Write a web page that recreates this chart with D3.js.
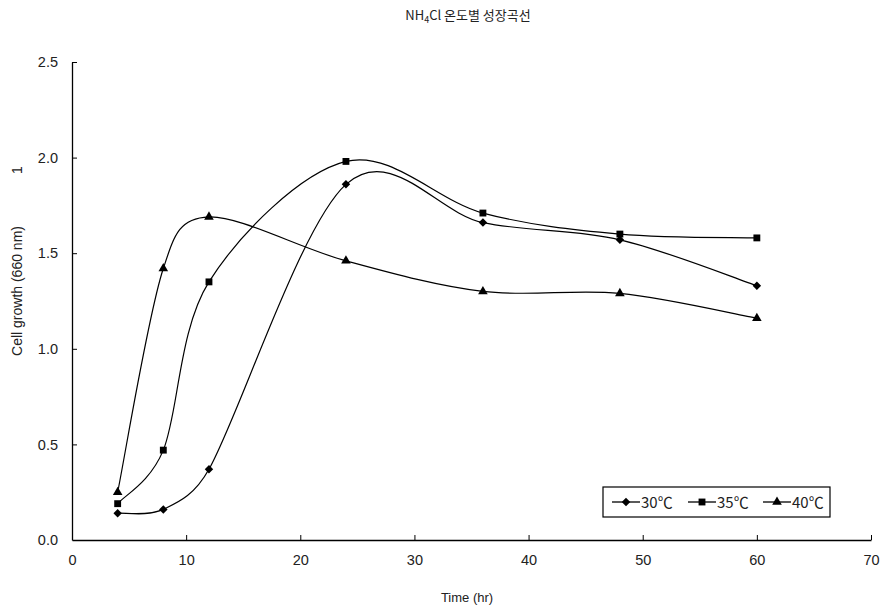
<!DOCTYPE html>
<html>
<head>
<meta charset="utf-8">
<script src="https://cdn.jsdelivr.net/npm/d3@7"></script>
<style>
  body { margin: 0; background: #fff; }
  svg { display: block; }
  text { fill: #222; }
</style>
</head>
<body>
<svg id="chart" width="883" height="610"></svg>
<script>
// Sampling times (hr)
const times = [4, 8, 12, 24, 36, 48, 60];
// Cell growth (OD 660 nm) per incubation temperature
const growth30 = [0.14, 0.16, 0.37, 1.86, 1.66, 1.57, 1.33];
const growth35 = [0.19, 0.47, 1.35, 1.98, 1.71, 1.60, 1.58];
const growth40 = [0.25, 1.42, 1.69, 1.46, 1.30, 1.29, 1.16];
const seriesNames = ["30℃", "35℃", "40℃"];
const xTicks = [0, 10, 20, 30, 40, 50, 60, 70];
const yTicks = [0.0, 0.5, 1.0, 1.5, 2.0, 2.5];

const series = [
  { name: seriesNames[0], values: growth30, symbol: d3.symbolDiamond2, size: 46 },
  { name: seriesNames[1], values: growth35, symbol: d3.symbolSquare2, size: 60 },
  { name: seriesNames[2], values: growth40, symbol: d3.symbolTriangle, size: 40 }
];

// Spreadsheet-style smoothing: Catmull-Rom tangents (1/6) whose control
// handles are clamped to half of the segment length.
function curveSmoothClamped(context) {
  let pts = [];
  return {
    areaStart() {}, areaEnd() {},
    lineStart() { pts = []; },
    point(px, py) { pts.push([+px, +py]); },
    lineEnd() {
      const n = pts.length;
      if (!n) return;
      context.moveTo(pts[0][0], pts[0][1]);
      const dist = (a, b) => Math.hypot(b[0] - a[0], b[1] - a[1]);
      for (let i = 0; i < n - 1; i++) {
        const p0 = pts[Math.max(i - 1, 0)], p1 = pts[i], p2 = pts[i + 1], p3 = pts[Math.min(i + 2, n - 1)];
        const d12 = dist(p1, p2), d02 = dist(p0, p2), d13 = dist(p1, p3);
        const f1 = d02 / 6 < d12 / 2 ? 1 / 6 : d12 / (2 * d02);
        const f2 = d13 / 6 < d12 / 2 ? 1 / 6 : d12 / (2 * d13);
        context.bezierCurveTo(
          p1[0] + (p2[0] - p0[0]) * f1, p1[1] + (p2[1] - p0[1]) * f1,
          p2[0] - (p3[0] - p1[0]) * f2, p2[1] - (p3[1] - p1[1]) * f2,
          p2[0], p2[1]);
      }
    }
  };
}

const svg = d3.select("#chart");
const plot = { left: 72, right: 871, top: 62, bottom: 540 };

const x = d3.scaleLinear().domain([0, 70]).range([plot.left, plot.right]);
const y = d3.scaleLinear().domain([0, 2.5]).range([plot.bottom, plot.top]);

const numFont = "'Liberation Sans', Arial, sans-serif";
const krFont = "'Noto Sans CJK KR', 'Liberation Sans', sans-serif";

// Axes (ticks point inward)
const xAxis = svg.append("g").attr("transform", `translate(0,${plot.bottom})`)
  .call(d3.axisBottom(x).tickValues(xTicks).tickSizeInner(-5).tickSizeOuter(0)
    .tickPadding(15).tickFormat(d3.format("d")));
const yAxis = svg.append("g").attr("transform", `translate(${plot.left},0)`)
  .call(d3.axisLeft(y).tickValues(yTicks).tickSizeInner(-5).tickSizeOuter(0)
    .tickPadding(14).tickFormat(d3.format(".1f")));
[xAxis, yAxis].forEach(g => {
  g.attr("font-size", 14.5).attr("font-family", numFont);
  g.select(".domain").attr("stroke", "#000").attr("stroke-width", 1.3);
  g.selectAll(".tick line").attr("stroke", "#000");
  g.selectAll(".tick text").attr("fill", "#333");
});
xAxis.selectAll(".tick").filter(d => d === 0).select("line").remove();
yAxis.selectAll(".tick").filter(d => d === 0).select("line").remove();

// Smoothed series lines
const line = d3.line()
  .x((d, i) => x(times[i]))
  .y(d => y(d))
  .curve(curveSmoothClamped);

series.forEach(s => {
  svg.append("path")
    .attr("d", line(s.values))
    .attr("fill", "none")
    .attr("stroke", "#000")
    .attr("stroke-width", 1.2);
  svg.append("g").selectAll("path")
    .data(s.values)
    .join("path")
    .attr("transform", (d, i) => `translate(${x(times[i])},${y(d)})`)
    .attr("d", d3.symbol(s.symbol, s.size))
    .attr("fill", "#000");
});

// Title
const title = svg.append("text")
  .attr("x", 468).attr("y", 20)
  .attr("text-anchor", "middle")
  .attr("font-family", krFont)
  .attr("font-size", 13);
title.append("tspan").text("NH");
title.append("tspan").attr("font-size", 9).attr("dy", 3).text("4");
title.append("tspan").attr("dy", -3).text("Cl 온도별 성장곡선");

// Axis titles
svg.append("text")
  .attr("x", 467).attr("y", 602)
  .attr("text-anchor", "middle")
  .attr("font-family", numFont)
  .attr("font-size", 13)
  .text("Time (hr)");

svg.append("text")
  .attr("transform", "translate(22,291) rotate(-90)")
  .attr("text-anchor", "middle")
  .attr("font-family", numFont)
  .attr("font-size", 14)
  .text("Cell growth (660 nm)");

svg.append("text")
  .attr("transform", "translate(22,170) rotate(-90)")
  .attr("text-anchor", "middle")
  .attr("font-family", numFont)
  .attr("font-size", 14)
  .text("1");

// Legend
const legend = svg.append("g");
legend.append("rect")
  .attr("x", 603).attr("y", 487).attr("width", 227).attr("height", 30)
  .attr("fill", "#fff").attr("stroke", "#000").attr("stroke-width", 1.2);
const legendX = [612, 688, 763];
series.forEach((s, i) => {
  const g = legend.append("g").attr("transform", `translate(${legendX[i]},502)`);
  g.append("line").attr("x1", 0).attr("x2", 28).attr("stroke", "#000").attr("stroke-width", 1.3);
  g.append("path").attr("transform", "translate(14,0)").attr("d", d3.symbol(s.symbol, s.size)).attr("fill", "#000");
  g.append("text").attr("x", 29).attr("y", 6)
    .attr("font-family", krFont).attr("font-size", 15).text(s.name);
});
</script>
</body>
</html>
